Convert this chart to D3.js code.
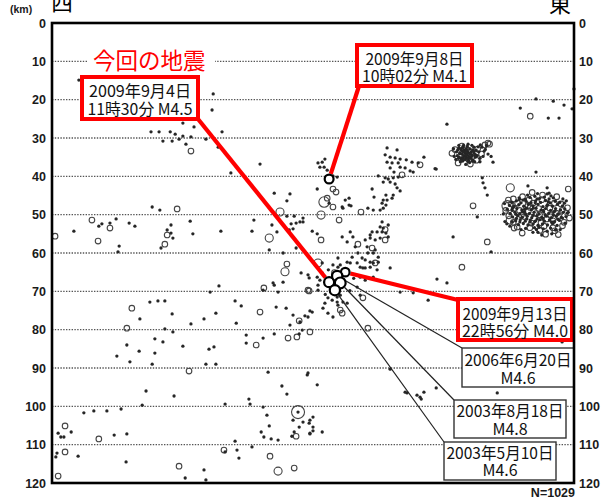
<!DOCTYPE html>
<html>
<head>
<meta charset="utf-8">
<script src="https://cdn.jsdelivr.net/npm/d3@7"></script>
<style>
  html, body { margin: 0; padding: 0; background: #fff; }
  svg { display: block; }
</style>
</head>
<body>
<svg id="chart" width="604" height="499"></svg>
<script>
// Hypocentres on a west–east cross-section: [distance along section (km), depth (km), magnitude]
const westQuakes = [
  [7.0,14.9,1],[42.0,18.5,1],[41.7,22.7,1],[34.1,26.1,1],[37.0,27.1,1],[25.8,28.4,1],[27.9,28.4,1],[30.8,28.4,1],
  [32.1,29.0,1],[34.1,29.5,1],[36.2,29.7,1],[28.9,30.8,1],[31.3,30.8,1],[33.1,30.3,1],[40.1,30.3,1],[44.3,28.4,1],
  [34.9,31.6,1],[43.3,32.4,1],[36.2,33.4,2.5],[54.2,36.8,1],[46.6,39.1,1],[57.9,44.4,1],[62.0,44.6,1],[61.2,46.4,1],
  [26.1,48.0,1],[28.1,48.8,1],[32.6,48.5,2.5],[59.4,49.3,3],[61.2,50.4,1],[63.1,50.4,1],[65.4,50.9,1],[52.6,51.4,1],
  [10.4,51.4,2.5],[13.0,52.4,1],[12.2,53.0,1],[15.1,52.2,1],[16.7,51.1,1],[20.1,52.2,1],[21.6,53.0,1],[15.1,53.5,2.5],
  [5.7,54.3,1],[0.8,55.6,2.5],[12.0,56.9,2.5],[17.5,58.2,1],[17.2,59.7,1],[31.0,52.7,1],[30.0,54.0,1],[31.0,54.8,1],
  [30.0,55.3,2.5],[31.5,56.1,1],[29.4,57.7,2.5],[28.4,58.7,1],[36.0,51.7,1],[36.7,55.0,1],[44.0,54.3,1],[52.1,54.3,1],
  [56.6,56.1,3],[57.3,52.7,1],[58.6,54.5,1],[62.3,52.4,1],[63.6,52.2,1],[64.6,51.9,1],[61.8,54.0,1],[62.8,53.7,1],
  [56.6,59.2,1],[63.6,58.7,1],[61.2,62.9,2.5],[60.7,64.9,3],[64.9,65.2,1],[66.7,65.7,1],[67.0,66.5,1],[57.9,68.4,1],
  [60.2,67.6,1],[55.2,69.1,2.5],[43.5,68.6,1],[41.2,70.2,1],[58.9,70.2,1],[60.2,60.0,1],[55.0,69.7,1],[57.6,67.8,1],
  [20.8,74.4,2.5],[25.5,72.8,1],[27.6,72.5,1],[29.4,72.5,1],[31.3,75.9,1],[22.9,77.2,1],[19.5,79.6,2.5],[29.4,79.8,1],
  [31.5,80.6,1],[36.2,78.5,1],[39.6,77.2,1],[42.7,75.7,1],[47.7,72.5,1],[49.3,73.8,1],[48.0,78.3,1],[54.2,75.4,2.5],
  [58.4,74.1,1],[61.0,74.4,1],[62.8,76.2,1],[64.4,77.7,2.5],[62.0,78.8,1],[65.2,80.1,1],[57.9,81.1,1],[55.0,82.2,1],
  [61.5,82.2,2.5],[63.8,81.9,2.5],[64.4,81.1,1],[50.6,81.4,1],[50.6,83.5,1],[53.2,84.0,2.5],[26.8,82.4,1],[28.9,83.2,1],
  [19.5,84.0,1],[22.7,85.6,1],[26.8,86.1,1],[16.9,86.9,1],[20.3,88.4,1],[26.1,89.0,1],[34.1,84.3,1],[40.9,85.1,1],
  [42.2,84.5,1],[40.1,89.0,1],[42.7,89.0,1],[35.7,90.8,2.5],[56.3,91.1,1],[59.9,94.7,1],[61.2,96.8,1],[24.5,96.0,1],
  [31.8,97.3,1],[51.3,98.1,1],[51.6,99.4,1],[45.1,99.4,1],[23.5,99.7,1],[8.3,101.7,1],[10.9,101.2,1],[14.3,101.2,1],
  [18.0,100.7,1],[55.0,100.2,1],[64.1,101.5,4],[64.1,101.5,1],[56.0,102.3,1],[62.8,103.6,1],[64.4,105.4,1],[65.4,104.1,1],
  [56.6,105.1,1],[54.5,106.7,1],[55.2,108.0,1],[57.1,108.5,1],[58.9,108.8,1],[63.6,107.8,2.5],[62.5,107.8,1],[63.1,106.7,1],
  [3.4,105.1,2.5],[5.0,106.7,1],[1.6,107.0,1],[2.3,108.0,1],[3.1,108.0,1],[12.2,108.5,2.5],[16.2,107.5,1],[19.5,107.2,1],
  [3.4,111.9,2.5],[1.3,112.2,1],[1.0,113.2,1],[6.8,113.0,1],[19.3,114.5,1],[1.6,118.2,2.5],[33.1,115.6,2.5],[34.7,118.7,1],
  [39.6,116.6,1],[40.1,119.2,1],[44.8,111.4,2.5],[45.1,111.9,1],[47.7,109.1,1],[48.2,111.4,1],[48.7,113.5,1],[52.1,110.6,1],
  [56.8,113.0,2.5],[58.9,116.9,3],[63.1,116.1,2.5]
];

const centralQuakes = [
  [67.0,69.9,2.5],[67.2,80.6,2.5],[66.7,76.7,1],[67.2,75.1,1],[66.5,91.8,1],[67.0,104.4,1],[67.2,107.2,1],[65.4,51.9,1],
  [71.9,71.7,1],[73.0,72.3,1],[74.3,71.5,1],[75.1,71.0,1],[75.8,72.8,1],[74.5,73.6,1],[75.6,75.7,2.5],[80.3,71.0,1],
  [81.0,71.7,2.5],[76.9,73.1,1],[67.8,75.4,1],[65.9,76.4,1],[73.2,76.7,1],[64.6,78.0,1],[82.3,79.6,2.5],[98.0,72.3,1],
  [102.9,67.8,1],[90.7,70.2,1],[66.7,91.3,1],[69.1,94.4,1],[92.5,96.5,1],[95.1,97.1,1],[95.9,97.6,1],[96.9,96.3,1],
  [100.1,95.2,1],[68.0,102.8,1],[67.2,103.6,1],[68.0,105.4,1],[68.0,106.4,1],[67.2,107.0,1],[70.4,106.7,1],[88.1,90.3,1],
  [94.1,70.4,1],[92.0,96.3,1],[96.2,98.1,1],
  // column rising towards the east
  [87.3,32.6,1],[89.9,33.1,1],[86.8,34.4,1],[88.1,35.0,1],[89.4,35.2,1],[90.7,35.5,1],[92.3,35.7,1],[87.3,36.3,1],
  [88.6,36.5,1],[90.2,36.5,1],[90.7,37.6,1],[92.0,37.8,1],[93.3,38.6,1],[94.1,38.9,1],[88.1,37.8,1],[89.1,38.9,1],
  [86.8,40.4,1],[87.6,40.7,1],[88.9,40.4,1],[90.2,40.2,1],[86.3,41.5,1],[88.1,41.5,1],[89.9,43.0,1],[90.7,43.8,1],
  [87.0,44.9,1],[88.9,44.9,1],[88.6,45.7,1],[86.3,46.2,1],[87.3,46.2,1],[86.0,47.0,1],[87.0,47.5,1],[85.5,48.8,1],
  [86.3,48.3,1],[93.8,36.3,1],[95.4,36.5,1],[96.9,35.0,1],[95.9,37.0,2.5],[100.1,38.1,1],[85.0,39.9,1],[83.4,43.3,1],
  [83.9,45.4,1],[82.3,48.3,1],[83.7,48.8,1],[80.5,49.3,2.5],[91.2,39.6,2.5],[89.4,42.0,1],
  // around the 2009-09-08 event
  [69.3,36.5,1],[70.4,36.3,1],[70.9,37.6,1],[71.7,38.4,1],[69.8,37.6,1],[71.1,35.5,1],[73.2,39.9,1],[74.3,40.2,1],
  [69.1,43.3,1],[73.2,43.3,2.5],[74.0,44.1,2.5],[71.7,45.7,2.5],[70.9,46.7,3.5],[72.2,47.0,1],[73.2,48.0,2.5],[75.6,48.0,1],
  [76.4,46.2,1],[77.4,45.7,1],[75.8,48.3,1],[77.4,47.5,1],[77.9,47.7,1],[70.1,50.1,3],[74.8,51.4,2.5],
  // dense band above the main events
  [86.0,51.9,1],[85.5,53.2,1],[86.3,53.5,1],[87.6,52.7,1],[84.7,54.5,1],[86.0,54.5,1],[87.0,54.8,1],[87.6,55.8,1],
  [83.4,54.5,1],[82.9,56.1,1],[84.2,56.6,1],[85.5,56.1,1],[86.8,56.6,2.5],[82.1,58.4,1],[83.4,58.7,2.5],[84.2,59.2,1],
  [82.3,60.0,1],[83.7,60.0,1],[85.0,61.1,1],[80.8,61.3,1],[81.6,61.8,1],[82.9,62.4,1],[84.2,62.6,2.5],[80.3,63.7,1],
  [81.0,63.9,1],[82.9,63.7,1],[84.7,64.4,1],[79.0,58.4,1],[79.7,60.0,1],[88.1,63.9,1],[75.6,55.8,1],[78.4,55.8,1],
  [70.1,56.6,2.5],[74.5,61.3,1],[75.1,63.1,1],[77.7,62.6,1],[69.3,62.6,3],[67.8,54.3,1],[69.1,55.0,1],[77.7,54.5,1],
  [76.9,57.1,1],[79.7,57.7,2.5],[81.6,56.6,1],[82.9,55.3,1],[86.8,53.9,2.5],[70.4,62.6,1],[73.2,63.1,1],[74.5,63.7,1],
  [76.9,62.4,1],[78.2,61.1,1],[79.5,62.6,1],[81.6,63.9,1],[83.7,62.6,1],[85.0,62.4,1],[80.3,66.3,1],[81.6,67.1,1],
  [83.7,66.3,1],[69.1,66.3,1],[69.8,67.1,1],[69.3,68.4,1],[70.4,65.2,1],[71.1,67.6,1],[69.3,69.7,1],[66.7,69.7,2.5],
  [71.1,73.1,1],[74.3,72.8,1],[75.1,74.9,2.5],[70.6,74.4,1],[71.9,75.7,1],[79.5,68.9,1],[77.2,64.9,1],[78.6,66.6,1],
  [72.0,64.4,1],[73.6,65.1,2.5],[71.2,70.8,1],[77.6,69.8,1]
];

const eastQuakes = [
  [102.9,26.4,1],[122.0,22.2,1],[124.6,24.3,2.5],[129.3,24.8,1],[132.1,24.8,1],[130.6,20.4,1],[133.4,21.4,1],[135.5,22.4,1],
  [126.1,19.8,1],[136.0,17.2,1],[114.9,36.3,1],[112.1,40.4,1],[112.3,41.7,1],[112.8,43.0,1],[113.4,44.9,1],[109.7,47.7,2.5],
  [110.8,50.6,1],[104.5,55.8,1],[113.4,57.1,2.5],[114.4,59.7,1],[106.8,63.7,2.5],[100.3,66.8,1],[99.8,38.0,1],[126.1,38.9,1],
  [124.0,42.5,1],[129.0,43.0,1],[129.5,44.4,1],[133.7,52.2,1],[134.2,49.6,1],[132.9,83.2,1],[116.0,96.5,1]
];

// swarm near 34 km depth
const clusterShallow = [
  [106.0,32.6,1],[106.5,33.0,1],[107.0,32.4,1],[107.4,33.2,1],[107.9,32.8,1],[108.3,33.5,1],[108.8,32.9,1],[109.2,33.6,1],
  [109.7,33.1,1],[106.3,33.8,1],[106.8,34.2,1],[107.3,34.6,1],[107.7,34.0,1],[108.1,34.4,1],[108.6,34.8,1],[109.0,34.2,1],
  [109.5,34.5,1],[110.0,34.0,1],[106.1,35.0,1],[106.6,35.4,1],[107.1,35.1,1],[107.6,35.6,1],[108.0,35.2,1],[108.5,35.8,1],
  [109.1,35.3,1],[109.6,35.7,1],[110.3,35.0,1],[105.4,33.6,1],[105.6,34.6,1],[110.5,33.2,1],[110.8,34.6,1],[111.2,33.6,1],
  [107.2,31.9,1],[108.4,31.6,1],[109.4,31.9,1],[105.2,35.6,1],[106.4,36.2,1],[108.8,36.4,1],[110.1,36.2,1],[111.5,35.3,1],
  [112.0,32.4,1],[112.6,33.4,1],[113.2,32.0,1],[111.6,31.8,1],[112.3,34.8,1],[113.6,34.2,1],[114.4,34.8,1],[104.8,34.8,1],
  [107.8,36.9,1],[109.9,32.4,1],[107.5,33.7,1],[108.9,34.0,1],[106.9,33.4,1],[108.2,32.2,1],[110.4,34.4,1],[107.0,36.0,1],
  [105.7,33.1,1],[106.2,34.1,1],[106.7,32.7,1],[107.2,33.6,1],[107.6,34.8,1],[108.0,33.1,1],[108.4,34.0,1],[108.7,35.2,1],
  [109.3,34.8,1],[109.8,33.5,1],[110.2,34.7,1],[106.9,35.6,1],[107.9,34.5,1],[108.3,36.1,1],[109.5,36.0,1],[105.9,35.3,1],
  [111.5,36.2,1],[112.9,33.0,1],[111.0,32.3,1],[106.0,31.9,1],
  [105.8,36.5,2.5],[112.8,31.8,2.5],[114.0,31.6,2.5],[105.0,33.0,2.5],[110.6,35.8,2.5],[113.6,31.3,2.5],[106.8,32.1,2.5],
  [108.6,33.2,2.5],[110.9,32.9,2.5],[111.9,34.2,2.5],[109.0,36.8,2.5],[107.4,35.2,2.5],[104.6,32.8,1],[104.2,34.0,2.5]
];

// swarm near 49 km depth
const clusterDeep = [
  [124.5,45.5,1],[125.8,45.2,1],[127.0,45.8,1],[128.3,45.4,1],[129.5,45.9,1],[130.6,45.6,1],[123.2,46.0,1],
  [119.8,46.8,1],[121.0,46.4,1],[122.2,46.9,1],[123.5,46.5,1],[124.8,46.9,1],[126.0,46.4,1],[127.3,46.8,1],[128.6,46.3,1],
  [129.8,46.9,1],[131.1,46.5,1],[132.3,46.8,1],
  [119.2,47.6,1],[120.4,47.9,1],[121.6,47.4,1],[122.9,47.8,1],[124.1,47.3,1],[125.3,47.7,1],[126.6,47.3,1],[127.9,47.9,1],
  [129.1,47.4,1],[130.4,47.8,1],[131.7,47.3,1],[133.0,47.7,1],
  [118.6,48.6,1],[119.9,48.9,1],[121.1,48.4,1],[122.4,48.8,1],[123.6,48.3,1],[124.9,48.7,1],[126.1,48.3,1],[127.4,48.8,1],
  [128.6,48.4,1],[129.9,48.9,1],[131.2,48.4,1],[132.5,48.8,1],[133.6,48.5,1],
  [119.4,49.7,1],[120.6,49.4,1],[121.9,49.8,1],[123.1,49.3,1],[124.4,49.7,1],[125.6,49.4,1],[126.9,49.8,1],[128.1,49.3,1],
  [129.4,49.7,1],[130.7,49.3,1],[131.9,49.8,1],[133.2,49.4,1],
  [120.0,50.6,1],[121.3,50.3,1],[122.5,50.7,1],[123.8,50.4,1],[125.0,50.8,1],[126.3,50.3,1],[127.6,50.7,1],[128.8,50.4,1],
  [130.1,50.8,1],[131.4,50.4,1],[132.7,50.7,1],
  [120.8,51.6,1],[122.0,51.3,1],[123.3,51.7,1],[124.6,51.4,1],[125.8,51.8,1],[127.1,51.3,1],[128.3,51.7,1],[129.6,51.4,1],
  [130.9,51.8,1],[132.2,51.5,1],
  [121.5,52.6,1],[122.8,52.3,1],[124.0,52.7,1],[125.3,52.4,1],[126.6,52.8,1],[127.8,52.4,1],[129.1,52.7,1],[130.4,52.3,1],
  [131.6,52.8,1],
  [123.4,53.6,1],[125.7,53.4,1],[128.0,53.7,1],[129.9,53.5,1],[131.2,54.0,1],
  [118.0,51.8,1],[119.3,53.0,1],[133.9,50.5,1],[134.5,49.4,1],[126.6,54.6,1],[127.6,55.3,1],[130.2,55.0,1],[129.0,44.6,1],
  [126.5,44.5,1],[134.0,46.4,1],[117.6,49.8,1],[124.6,51.9,1],[126.4,51.1,1],
  [121.7,45.6,1],[123.9,44.9,1],[130.0,45.1,1],[133.1,45.9,1],[117.9,47.1,1],[122.7,46.2,1],[126.4,45.9,1],[129.3,46.6,1],
  [120.0,48.3,1],[123.1,48.6,1],[128.0,48.9,1],[131.0,49.1,1],[120.9,49.9,1],[125.3,50.2,1],[128.5,50.0,1],[133.0,50.9,1],
  [118.5,52.4,1],[121.9,51.9,1],[123.7,51.1,1],[126.0,51.6,1],[130.2,51.9,1],[131.8,51.2,1],[122.2,53.9,1],[126.2,53.9,1],
  [129.0,54.3,1],[132.4,53.9,1],[125.3,54.6,1],[121.8,46.0,1],[125.9,46.9,1],[128.9,47.7,1],[123.4,49.9,1],[127.9,51.0,1],
  [121.0,51.0,1],[119.9,51.8,1],[130.6,50.1,1],[126.9,53.3,1],[133.5,47.0,1],[125.4,48.3,1],[122.6,49.2,1],
  [118.6,47.7,3.5],[119.4,51.4,3],[121.2,53.2,2.5],[123.0,50.5,2.5],[120.5,48.3,2.5],[130.5,51.6,2.5],[132.0,50.4,2.5],
  [133.4,52.0,2.5],[131.0,54.2,2.5],[127.0,50.0,2.5],[124.0,47.6,2.5],[122.5,54.8,2.5],[119.4,43.0,3],[134.5,43.3,2.5],
  [125.3,47.0,2.5],[128.2,53.0,2.5],
  [118.9,46.2,2.5],[120.2,45.9,2.5],[122.6,45.3,2.5],[125.1,44.2,2.5],[127.8,44.9,2.5],[131.5,45.3,2.5],[119.6,47.2,2.5],
  [121.3,47.0,2.5],[124.3,46.1,2.5],[127.6,46.1,2.5],[130.9,47.0,2.5],[132.6,47.2,2.5],[118.2,48.9,2.5],[121.8,48.9,2.5],
  [124.6,48.1,2.5],[126.8,48.4,2.5],[129.7,48.3,2.5],[132.9,48.9,2.5],[134.3,48.2,2.5],[119.0,50.3,2.5],[122.3,50.1,2.5],
  [124.1,49.1,2.5],[126.1,49.7,2.5],[129.9,50.2,2.5],[131.4,49.6,2.5],[134.8,50.9,2.5],[120.2,52.0,2.5],[124.9,52.2,2.5],
  [127.4,52.1,2.5],[128.9,51.1,2.5],[133.0,52.9,2.5],[120.4,53.5,2.5],[124.5,53.4,2.5],[127.1,54.1,2.5],[130.5,53.4,2.5],
  [128.6,55.1,2.5],[131.9,55.2,2.5]
];

// Events singled out with callouts
const eventDates  = ["2009年9月4日", "2009年9月8日", "2009年9月13日", "2006年6月20日", "2003年8月18日", "2003年5月10日"];
const eventTimes  = ["11時30分", "10時02分", "22時56分", "", "", ""];
const eventMags   = [4.5, 4.1, 4.0, 4.6, 4.8, 4.6];
const eventDist   = [72.2, 72.2, 76.4, 74.3, 75.1, 73.7];
const eventDepth  = [67.6, 40.7, 65.0, 66.0, 67.8, 69.7];
const eventRecent = [true, true, true, false, false, false];

const depthTicks = [0, 10, 20, 30, 40, 50, 60, 70, 80, 90, 100, 110, 120];
const quakeCount = 1029;

// ---- layout ----
const svg = d3.select("#chart");
const x = d3.scaleLinear().domain([0, 136]).range([52, 574]);
const y = d3.scaleLinear().domain([0, 120]).range([23, 483]);
const rQuake = d3.scaleLinear().domain([2.5, 4]).range([2.8, 6.5]);
const rEvent = d3.scaleLinear().domain([4.0, 4.8]).range([4.3, 5.4]);

const boxLayout = [
  { x: 82, y: 77, w: 116, h: 42, base: [97, 115], tl: [102, 105], anchor: [198, 119] },
  { x: 357, y: 45, w: 115, h: 41, base: [65, 82], tl: [98, 105], anchor: [359, 86] },
  { x: 458, y: 299, w: 114, h: 41, base: [320, 337], tl: [105, 106], anchor: [458, 300] },
  { x: 462, y: 348, w: 112, h: 39, base: [366, 384], tl: [107, 0], anchor: [462, 348] },
  { x: 454, y: 400, w: 112, h: 38, base: [417, 435], tl: [107, 0], anchor: [454, 400] },
  { x: 444, y: 442, w: 112, h: 38, base: [459, 476], tl: [107, 0], anchor: [444, 442] }
];

const jp = "'Noto Sans CJK JP', 'Noto Sans CJK SC', sans-serif";
const latin = "'Liberation Sans', Arial, sans-serif";

// dotted depth grid
svg.append("g").selectAll("line")
  .data(depthTicks.filter(d => d > 0 && d < 120))
  .join("line")
  .attr("x1", x(0)).attr("x2", x(136))
  .attr("y1", d => y(d)).attr("y2", d => y(d))
  .attr("stroke", "#555").attr("stroke-width", 1.3)
  .attr("stroke-dasharray", "1.4 1.4");

// tick labels on both sides
const tickFont = g => g.attr("font-family", latin).attr("font-size", 12.5)
  .attr("font-weight", "bold").attr("fill", "#1a1a1a");
svg.append("g").call(tickFont).selectAll("text")
  .data(depthTicks).join("text")
  .attr("x", 46).attr("y", d => y(d) + 4.5)
  .attr("text-anchor", "end").text(d => d);
svg.append("g").call(tickFont).selectAll("text")
  .data(depthTicks).join("text")
  .attr("x", 579).attr("y", d => y(d) + 4.5)
  .attr("text-anchor", "start").text(d => d);

svg.append("text").attr("x", 10).attr("y", 13)
  .attr("font-family", latin).attr("font-size", 10.5).attr("font-weight", "bold")
  .attr("fill", "#1a1a1a").text("(km)");
svg.append("text").attr("x", 51).attr("y", 10)
  .attr("font-family", jp).attr("font-size", 22).attr("fill", "#000").text("西");
svg.append("text").attr("x", 549).attr("y", 12)
  .attr("font-family", jp).attr("font-size", 22).attr("fill", "#000").text("東");

// hypocentres
const allQuakes = [...westQuakes, ...centralQuakes, ...eastQuakes, ...clusterShallow, ...clusterDeep];
const gq = svg.append("g");
gq.selectAll("circle.ring")
  .data(allQuakes.filter(d => d[2] >= 2)).join("circle")
  .attr("class", "ring")
  .attr("cx", d => x(d[0])).attr("cy", d => y(d[1])).attr("r", d => rQuake(d[2]))
  .attr("fill", "none").attr("stroke", "#444").attr("stroke-width", 1.1);
gq.selectAll("circle.dot")
  .data(allQuakes.filter(d => d[2] < 2)).join("circle")
  .attr("class", "dot")
  .attr("cx", d => x(d[0])).attr("cy", d => y(d[1])).attr("r", 1.65)
  .attr("fill", "#262626");

// headline label
svg.append("rect").attr("x", 88).attr("y", 47).attr("width", 127).attr("height", 26).attr("fill", "#fff");
svg.append("text").attr("x", 93).attr("y", 69)
  .attr("font-family", jp).attr("font-size", 22.5).attr("fill", "#ff0000")
  .text("今回の地震");

// leader lines from each event to its callout
const events = eventDates.map((d, i) => ({
  date: d, time: eventTimes[i], mag: eventMags[i],
  cx: x(eventDist[i]), cy: y(eventDepth[i]), r: rEvent(eventMags[i]),
  recent: eventRecent[i], box: boxLayout[i]
}));
svg.append("g").selectAll("line")
  .data(events).join("line")
  .each(function (e) {
    const [ax, ay] = e.box.anchor;
    const dx = ax - e.cx, dy = ay - e.cy, len = Math.hypot(dx, dy);
    d3.select(this)
      .attr("x1", e.cx + dx / len * (e.r + 1)).attr("y1", e.cy + dy / len * (e.r + 1))
      .attr("x2", ax).attr("y2", ay);
  })
  .attr("stroke", e => e.recent ? "#ff0000" : "#222")
  .attr("stroke-width", e => e.recent ? 4.2 : 1.2);

// event markers
svg.append("g").selectAll("circle")
  .data(events).join("circle")
  .attr("cx", e => e.cx).attr("cy", e => e.cy).attr("r", e => e.r)
  .attr("fill", "#fff").attr("stroke", "#000").attr("stroke-width", 2.2);

// callout boxes
const gb = svg.append("g").selectAll("g").data(events).join("g");
gb.append("rect")
  .attr("x", e => e.box.x).attr("y", e => e.box.y)
  .attr("width", e => e.box.w).attr("height", e => e.box.h)
  .attr("fill", "#fff")
  .attr("stroke", e => e.recent ? "#ff0000" : "#333")
  .attr("stroke-width", e => e.recent ? 4 : 1.4);
gb.append("text")
  .attr("x", e => e.box.x + e.box.w / 2).attr("y", e => e.box.base[0])
  .attr("text-anchor", "middle")
  .attr("textLength", e => e.box.tl[0]).attr("lengthAdjust", "spacingAndGlyphs")
  .attr("font-family", jp).attr("font-size", 16).attr("fill", "#111")
  .text(e => e.date);
gb.append("text")
  .attr("x", e => e.box.x + e.box.w / 2).attr("y", e => e.box.base[1])
  .attr("text-anchor", "middle")
  .each(function (e) {
    if (e.box.tl[1]) d3.select(this).attr("textLength", e.box.tl[1]).attr("lengthAdjust", "spacingAndGlyphs");
  })
  .attr("font-family", jp).attr("font-size", 16).attr("fill", "#111")
  .text(e => (e.time ? e.time + "  " : "") + "M" + e.mag.toFixed(1));

// frame
svg.append("rect")
  .attr("x", x(0)).attr("y", y(0))
  .attr("width", x(136) - x(0)).attr("height", y(120) - y(0))
  .attr("fill", "none").attr("stroke", "#000").attr("stroke-width", 2.6);

svg.append("text").attr("x", 575).attr("y", 497)
  .attr("text-anchor", "end")
  .attr("font-family", latin).attr("font-size", 12.5).attr("font-weight", "bold")
  .attr("fill", "#1a1a1a").text("N=" + quakeCount);
</script>
</body>
</html>
